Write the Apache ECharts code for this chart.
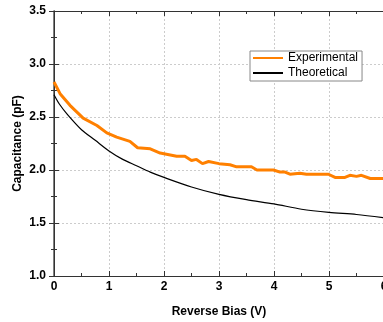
<!DOCTYPE html>
<html>
<head>
<meta charset="utf-8">
<script src="https://cdn.jsdelivr.net/npm/echarts@6/dist/echarts.min.js"></script>
<style>
  html, body { margin: 0; padding: 0; background: #fff; }
  #chart { width: 383px; height: 322px; }
</style>
</head>
<body>
<div id="chart"></div>
<script>
const expBias = [0, 0.11, 0.29, 0.53, 0.78, 0.96, 1.14, 1.38, 1.52, 1.75, 1.93, 2.23, 2.38, 2.5, 2.59, 2.7, 2.81, 3.0, 3.2, 3.32, 3.59, 3.69, 3.99, 4.11, 4.2, 4.29, 4.47, 4.59, 4.99, 5.11, 5.29, 5.38, 5.5, 5.59, 5.75, 6.0];
const expCap = [2.83, 2.72, 2.61, 2.49, 2.42, 2.35, 2.31, 2.27, 2.21, 2.20, 2.16, 2.13, 2.13, 2.09, 2.10, 2.06, 2.08, 2.06, 2.05, 2.03, 2.03, 2.00, 2.00, 1.98, 1.98, 1.96, 1.97, 1.96, 1.96, 1.93, 1.93, 1.95, 1.94, 1.95, 1.92, 1.92];

const theoBias = [0, 0.1, 0.25, 0.5, 0.75, 1.0, 1.25, 1.5, 1.75, 2.0, 2.5, 3.0, 3.5, 4.0, 4.5, 5.0, 5.5, 6.0];
const theoCap = [2.71, 2.62, 2.52, 2.38, 2.28, 2.18, 2.10, 2.04, 1.98, 1.93, 1.84, 1.77, 1.72, 1.68, 1.63, 1.60, 1.58, 1.55];

const seriesNames = ['Experimental', 'Theoretical'];

const font = 'Arial, "Liberation Sans", sans-serif';
const axisColor = '#333';

const chart = echarts.init(document.getElementById('chart'));

const frameAxis = {
  axisLine: { show: true, lineStyle: { color: axisColor, width: 1 } },
  axisTick: { show: true, inside: true, length: 5, lineStyle: { color: axisColor } },
  minorTick: { show: true, splitNumber: 2, length: 3, lineStyle: { color: axisColor } },
  axisLabel: { show: false },
  splitLine: { show: false }
};

const option = {
  backgroundColor: '#fff',
  animation: false,
  grid: { left: 54, right: -1, top: 11, bottom: 46, containLabel: false, outerBoundsMode: 'none' },
  legend: {
    data: seriesNames,
    orient: 'vertical',
    left: 250,
    top: 51,
    padding: [1, 4, 2, 2],
    itemGap: 3,
    itemWidth: 30,
    itemHeight: 12,
    borderColor: '#888',
    borderWidth: 1,
    backgroundColor: '#fff',
    itemStyle: { opacity: 0 },
    textStyle: { fontFamily: font, fontSize: 12, color: '#000' }
  },
  xAxis: [
    {
      type: 'value', min: 0, max: 6, interval: 1, position: 'bottom',
      name: 'Reverse Bias (V)', nameLocation: 'middle', nameGap: 30, nameMoveOverlap: false,
      nameTextStyle: { fontFamily: font, fontSize: 12, fontWeight: 'bold', color: '#000' },
      axisLine: { show: true, onZero: false, lineStyle: { color: axisColor, width: 1 } },
      axisTick: { show: true, inside: true, length: 5, lineStyle: { color: axisColor } },
      minorTick: { show: true, splitNumber: 2, length: 3, lineStyle: { color: axisColor } },
      axisLabel: { fontFamily: font, fontSize: 12, fontWeight: 'bold', color: '#000', margin: 5 },
      splitLine: { show: true, lineStyle: { color: '#ccc', type: [2, 2] } }
    },
    Object.assign({ type: 'value', min: 0, max: 6, interval: 1, position: 'top' }, frameAxis)
  ],
  yAxis: [
    {
      type: 'value', min: 1, max: 3.5, interval: 0.5, position: 'left',
      name: 'Capacitance (pF)', nameLocation: 'middle', nameGap: 30, nameMoveOverlap: false,
      nameTextStyle: { fontFamily: font, fontSize: 12, fontWeight: 'bold', color: '#000' },
      axisLine: { show: true, onZero: false, lineStyle: { color: '#555', width: 1.5 } },
      axisTick: { show: true, inside: true, length: 5, lineStyle: { color: axisColor } },
      minorTick: { show: true, splitNumber: 2, length: 3, lineStyle: { color: axisColor } },
      axisLabel: {
        fontFamily: font, fontSize: 12, fontWeight: 'bold', color: '#000', margin: 8,
        formatter: v => v.toFixed(1)
      },
      splitLine: { show: true, lineStyle: { color: '#ccc', type: [2, 2] } }
    },
    Object.assign({ type: 'value', min: 1, max: 3.5, interval: 0.5, position: 'right' }, frameAxis)
  ],
  series: [
    {
      name: seriesNames[0],
      type: 'line',
      symbol: 'none',
      lineStyle: { color: '#ff8000', width: 3 },
      itemStyle: { color: '#ff8000' },
      data: expBias.map((x, i) => [x, expCap[i]]),
      z: 3
    },
    {
      name: seriesNames[1],
      type: 'line',
      symbol: 'none',
      smooth: 0.3,
      lineStyle: { color: '#000', width: 1.2 },
      itemStyle: { color: '#000' },
      data: theoBias.map((x, i) => [x, theoCap[i]]),
      z: 2
    }
  ]
};

chart.setOption(option);
</script>
</body>
</html>
